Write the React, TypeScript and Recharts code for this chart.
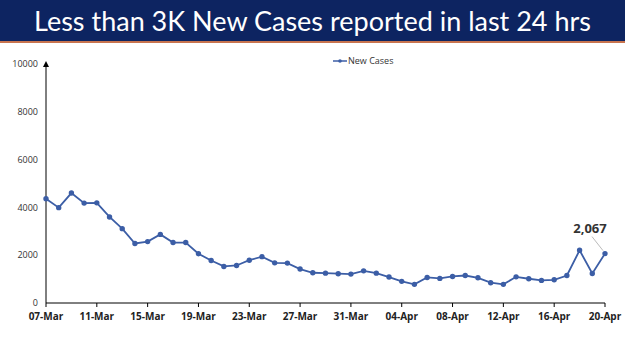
import { LineChart, Line, XAxis, YAxis, Legend, LabelList } from 'recharts';

const dates = [
  '07-Mar', '08-Mar', '09-Mar', '10-Mar', '11-Mar', '12-Mar', '13-Mar', '14-Mar', '15-Mar',
  '16-Mar', '17-Mar', '18-Mar', '19-Mar', '20-Mar', '21-Mar', '22-Mar', '23-Mar', '24-Mar',
  '25-Mar', '26-Mar', '27-Mar', '28-Mar', '29-Mar', '30-Mar', '31-Mar', '01-Apr', '02-Apr',
  '03-Apr', '04-Apr', '05-Apr', '06-Apr', '07-Apr', '08-Apr', '09-Apr', '10-Apr', '11-Apr',
  '12-Apr', '13-Apr', '14-Apr', '15-Apr', '16-Apr', '17-Apr', '18-Apr', '19-Apr', '20-Apr',
];

const newCases = [
  4360, 3990, 4600, 4180, 4190, 3600, 3110, 2490, 2570,
  2870, 2530, 2530, 2060, 1780, 1530, 1570, 1790, 1940,
  1680, 1670, 1420, 1265, 1250, 1225, 1210, 1345, 1250,
  1085, 905, 780, 1070, 1030, 1110, 1150, 1055, 850,
  780, 1095, 1015, 945, 970, 1150, 2205, 1235, 2067,
];

const yTicks = [0, 2000, 4000, 6000, 8000, 10000];

const chartData = dates.map((d, i) => ({ date: d, cases: newCases[i] }));

const lineColor = '#3c5ea6';

const LastLabel = (props: any) => {
  const { x, y, index, value } = props;
  if (index !== newCases.length - 1) return null;
  return (
    <g>
      <line x1={x - 13} y1={y - 17} x2={x - 2} y2={y - 3} stroke="#bbbbbb" strokeWidth={1} />
      <text x={x - 15} y={y - 21} textAnchor="middle" fontSize={13} fontWeight="bold" fill="#333" fontFamily="Open Sans">
        {value.toLocaleString('en-US')}
      </text>
    </g>
  );
};

const LegendContent = () => (
  <div style={{ display: 'flex', alignItems: 'center', fontFamily: 'Open Sans', fontSize: 9, color: '#333' }}>
    <svg width={14} height={8}>
      <line x1={0} y1={4} x2={14} y2={4} stroke={lineColor} strokeWidth={1.5} />
      <circle cx={7} cy={4} r={1.8} fill={lineColor} />
    </svg>
    <span style={{ marginLeft: 1 }}>New Cases</span>
  </div>
);

const App = () => {
  return (
    <div style={{ position: 'absolute', top: 0, left: 0, width: 625, height: 351, background: '#fff', overflow: 'hidden' }}>
      <LineChart width={625} height={351} data={chartData} margin={{ top: 51, right: 20, bottom: 18, left: 0 }}>
        <defs>
          <marker id="arrowUp" markerWidth={6} markerHeight={6} refX={3} refY={3} orient="auto-start-reverse" markerUnits="userSpaceOnUse">
            <path d="M0,0 L6,3 L0,6 Z" fill="#000" />
          </marker>
        </defs>
        <XAxis
          dataKey="date"
          interval={3}
          height={30}
          tick={{ fontSize: 10, fontWeight: 'bold', fill: '#222', fontFamily: 'Open Sans' }}
          tickLine={{ stroke: '#000' }}
          tickSize={4}
          tickMargin={6}
          axisLine={{ stroke: '#000' }}
        />
        <YAxis
          domain={[0, 10000]}
          ticks={yTicks}
          width={46}
          tickLine={false}
          tick={{ fontSize: 9, fill: '#333', fontFamily: 'Open Sans' }}
          axisLine={{ stroke: '#000', markerStart: 'url(#arrowUp)' }}
        />
        <Legend verticalAlign="top" content={<LegendContent />} wrapperStyle={{ top: 54, left: 333, width: 'auto' }} />
        <Line
          type="linear"
          dataKey="cases"
          name="New Cases"
          stroke={lineColor}
          strokeWidth={1.8}
          dot={{ r: 1.8, fill: lineColor, stroke: lineColor }}
          isAnimationActive={false}
        >
          <LabelList dataKey="cases" content={<LastLabel />} />
        </Line>
      </LineChart>
      <div
        style={{
          position: 'absolute', top: 0, left: 0, width: 625, height: 41,
          background: '#0d2461', borderBottom: '2px solid #c8744f',
          color: '#fff', fontFamily: 'Lato', fontSize: 27, lineHeight: '41px', textAlign: 'center',
        }}
      >
        Less than 3K New Cases reported in last 24 hrs
      </div>
    </div>
  );
};

export default App;
